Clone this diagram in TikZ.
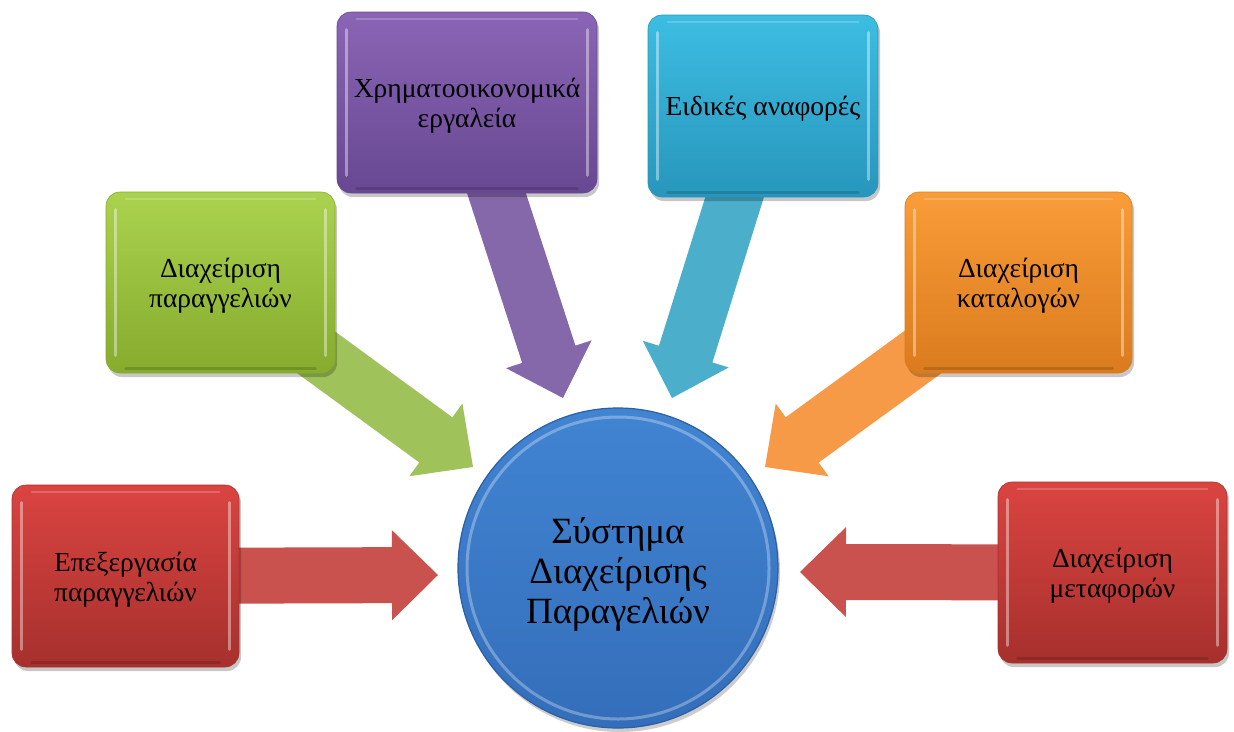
\documentclass[tikz,border=0pt]{standalone}
\usepackage{fontspec}
\setmainfont{Liberation Serif}
\usetikzlibrary{calc,shadows}
\pgfdeclarelayer{bg}
\pgfsetlayers{bg,main}
\definecolor{redT}{HTML}{DA4441}
\definecolor{redM}{HTML}{C93A37}
\definecolor{redB}{HTML}{A6302D}
\definecolor{grnT}{HTML}{ABD24F}
\definecolor{grnM}{HTML}{9BC33F}
\definecolor{grnB}{HTML}{86AB2D}
\definecolor{purT}{HTML}{8A65B5}
\definecolor{purM}{HTML}{7B58A6}
\definecolor{purB}{HTML}{684892}
\definecolor{cyaT}{HTML}{3DBDE2}
\definecolor{cyaM}{HTML}{33ADD3}
\definecolor{cyaB}{HTML}{2896BC}
\definecolor{oraT}{HTML}{FA9C38}
\definecolor{oraM}{HTML}{F08C2A}
\definecolor{oraB}{HTML}{DA7B1E}
\definecolor{bluT}{HTML}{4184D2}
\definecolor{bluB}{HTML}{346EBA}
\definecolor{bluE}{HTML}{2C5FA3}
\definecolor{arRed}{HTML}{C9524F}
\definecolor{arGrn}{HTML}{A0C25A}
\definecolor{arPur}{HTML}{8468AA}
\definecolor{arCya}{HTML}{4BAFCC}
\definecolor{arOra}{HTML}{F79A47}
\newcommand\mybevel[1]{%
  \draw[white,opacity=.4,line width=3pt,line cap=round] ($(#1.north west)+(10,18)$) -- ($(#1.south west)+(10,-18)$);
  \draw[white,opacity=.4,line width=3pt,line cap=round] ($(#1.north east)+(-10,18)$) -- ($(#1.south east)+(-10,-18)$);
  \draw[white,opacity=.2,line width=2pt,line cap=round] ($(#1.north west)+(20,7)$) -- ($(#1.north east)+(-20,7)$);
  \draw[black,opacity=.15,line width=3pt,line cap=round] ($(#1.south west)+(20,-5)$) -- ($(#1.south east)+(-20,-5)$);
}
\newcommand\myarrow[3]{%
  \coordinate (hb) at ($(#2)!46pt!(#1)$);
  \fill[#3] ($(#1)!28pt!90:(#2)$) -- ($(hb)!28pt!90:(#2)$) -- ($(hb)!45pt!90:(#2)$) -- (#2)
    -- ($(hb)!45pt!-90:(#2)$) -- ($(hb)!28pt!-90:(#2)$) -- ($(#1)!28pt!-90:(#2)$) -- cycle;
}
\begin{document}
\begin{tikzpicture}[x=1pt,y=-1pt,
  box/.style={rounded corners=14pt, inner sep=0pt, align=center,
    font=\fontsize{27.5}{30}\selectfont,
    drop shadow={shadow xshift=2pt, shadow yshift=-4pt, opacity=.22, fill=black}},
  boxtext/.style={align=center, inner sep=0pt, font=\fontsize{27.5}{30}\selectfont},
  redbox/.style={box, top color=redT, middle color=redM, bottom color=redB, draw=redB, line width=.6pt},
  grnbox/.style={box, top color=grnT, middle color=grnM, bottom color=grnB, draw=grnB, line width=.6pt},
  purbox/.style={box, top color=purT, middle color=purM, bottom color=purB, draw=purB, line width=.6pt},
  cyabox/.style={box, top color=cyaT, middle color=cyaM, bottom color=cyaB, draw=cyaB, line width=.6pt},
  orabox/.style={box, top color=oraT, middle color=oraM, bottom color=oraB, draw=oraB, line width=.6pt}
]
\useasboundingbox (0,0) rectangle (1234,731);

% boxes
\node[redbox, minimum width=227pt, minimum height=182pt] (b1) at (125.5,576) {};
\node[grnbox, minimum width=229pt, minimum height=181pt] (b2) at (220.5,282.5) {};
\node[purbox, minimum width=260pt, minimum height=181pt] (b3) at (467,102.5) {};
\node[cyabox, minimum width=230pt, minimum height=182pt] (b4) at (763,106) {};
\node[orabox, minimum width=227pt, minimum height=181pt] (b5) at (1018.5,282.5) {};
\node[redbox, minimum width=229pt, minimum height=181pt] (b6) at (1112.5,572.5) {};
\mybevel{b1}\mybevel{b2}\mybevel{b3}\mybevel{b4}\mybevel{b5}\mybevel{b6}
\node[boxtext] (l1) at ($(b1.center)+(0,4)$) {Επεξεργασία\\παραγγελιών};
\node[boxtext] (l2) at ($(b2.center)+(0,3)$) {Διαχείριση\\παραγγελιών};
\node[boxtext] (l3) at ($(b3.center)+(0,3)$) {Χρηματοοικονομικά\\εργαλεία};
\node[boxtext] (l4) at ($(b4.center)+(0,3)$) {Ειδικές αναφορές};
\node[boxtext] (l5) at ($(b5.center)+(0,3)$) {Διαχείριση\\καταλογών};
\node[boxtext] (l6) at ($(b6.center)+(0,3)$) {Διαχείριση\\μεταφορών};

% centre
\node[circle, minimum size=320pt, inner sep=0pt, top color=bluT, bottom color=bluB,
  draw=bluE, line width=1.2pt,
  drop shadow={shadow xshift=2pt, shadow yshift=-4pt, opacity=.2, fill=black}]
  (c) at (618,568) {};
\draw[white, opacity=.3, line width=3pt] (c.center) circle (151pt);
\node[align=center, inner sep=0pt, font=\fontsize{37}{40}\selectfont] (ct) at ($(c.center)+(0,6)$) {Σύστημα\\Διαχείρισης\\Παραγελιών};

% arrow tips
\coordinate (t1) at (438,575);
\coordinate (t2) at (473,467);
\coordinate (t3) at (563,398);
\coordinate (t4) at (672,398);
\coordinate (t5) at (765,467);
\coordinate (t6) at (800,572);

\begin{pgfonlayer}{bg}
\myarrow{b1.center}{t1}{arRed}
\myarrow{b2.center}{t2}{arGrn}
\myarrow{b3.center}{t3}{arPur}
\myarrow{b4.center}{t4}{arCya}
\myarrow{b5.center}{t5}{arOra}
\myarrow{b6.center}{t6}{arRed}
\end{pgfonlayer}
\end{tikzpicture}
\end{document}
